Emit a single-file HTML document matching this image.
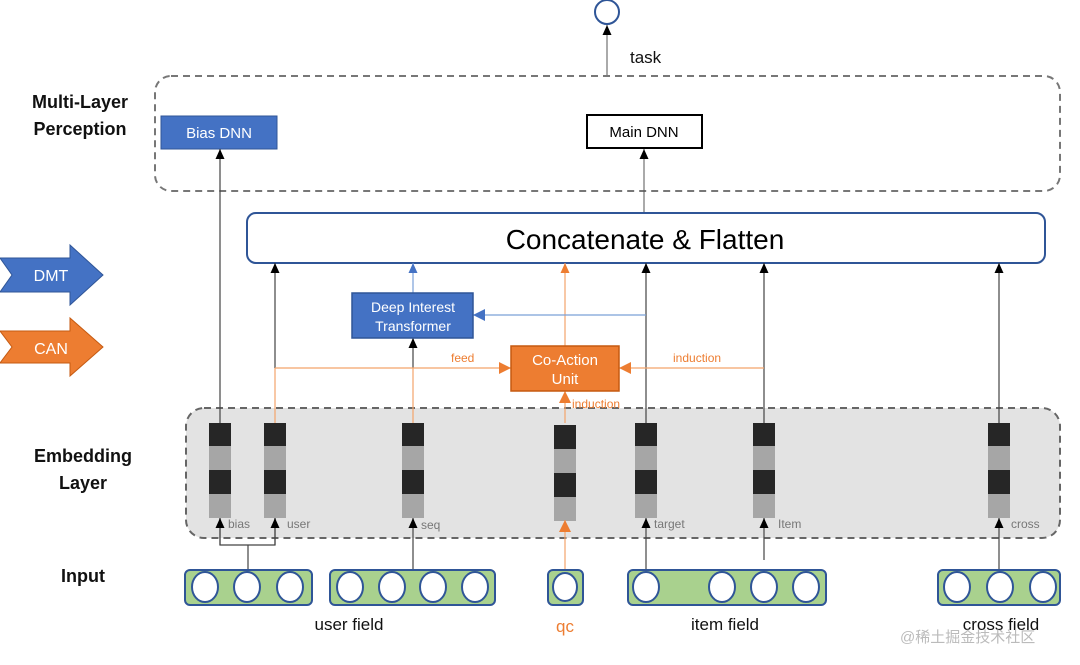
<!DOCTYPE html>
<html><head><meta charset="utf-8"><style>
html,body{margin:0;padding:0;background:#fff;}
svg{display:block;font-family:"Liberation Sans","Noto Sans CJK SC",sans-serif;}
</style></head><body>
<svg width="1080" height="665" viewBox="0 0 1080 665" xmlns="http://www.w3.org/2000/svg">
<defs>
<marker id="ab" markerWidth="10" markerHeight="10" refX="10" refY="4.5" orient="auto" markerUnits="userSpaceOnUse"><path d="M0,0 L10,4.5 L0,9 Z" fill="#000"/></marker>
<marker id="ao" markerWidth="10" markerHeight="10" refX="10" refY="4.5" orient="auto" markerUnits="userSpaceOnUse"><path d="M0,0 L10,4.5 L0,9 Z" fill="#ed7d31"/></marker>
<marker id="abl" markerWidth="10" markerHeight="10" refX="10" refY="4.5" orient="auto" markerUnits="userSpaceOnUse"><path d="M0,0 L10,4.5 L0,9 Z" fill="#4472c4"/></marker>
<marker id="ao2" markerWidth="12" markerHeight="12" refX="12" refY="6" orient="auto" markerUnits="userSpaceOnUse"><path d="M0,0 L12,6 L0,12 Z" fill="#ed7d31"/></marker>
<marker id="abl2" markerWidth="12" markerHeight="12" refX="12" refY="6" orient="auto" markerUnits="userSpaceOnUse"><path d="M0,0 L12,6 L0,12 Z" fill="#4472c4"/></marker>
</defs>
<g font-weight="bold" font-size="18" fill="#111" text-anchor="middle">
<text x="80" y="108">Multi-Layer</text><text x="80" y="135">Perception</text>
<text x="83" y="462">Embedding</text><text x="83" y="489">Layer</text>
<text x="83" y="582">Input</text>
</g>
<path d="M0,258 L70,258 L70,245 L103,275 L70,305 L70,292 L0,292 L12,275 Z" fill="#4472c4" stroke="#2f5597"/>
<text x="51" y="281" font-size="16" fill="#fff" text-anchor="middle">DMT</text>
<path d="M0,331 L70,331 L70,318 L103,347 L70,376 L70,363 L0,363 L12,347 Z" fill="#ed7d31" stroke="#c55a11"/>
<text x="51" y="354" font-size="16" fill="#fff" text-anchor="middle">CAN</text>
<ellipse cx="607" cy="12" rx="12" ry="12" fill="#fff" stroke="#2f5597" stroke-width="2"/>
<line x1="607" y1="76" x2="607" y2="25" stroke="#555" marker-end="url(#ab)"/>
<text x="630" y="63" font-size="17" fill="#111">task</text>
<rect x="155" y="76" width="905" height="115" rx="16" fill="none" stroke="#777" stroke-width="2" stroke-dasharray="7,5"/>
<rect x="161" y="116" width="116" height="33" fill="#4472c4" stroke="#2f5597"/>
<text x="219" y="138" font-size="15" fill="#fff" text-anchor="middle">Bias DNN</text>
<rect x="587" y="115" width="115" height="33" fill="#fff" stroke="#000" stroke-width="2"/>
<text x="644" y="137" font-size="15" fill="#000" text-anchor="middle">Main DNN</text>
<line x1="644" y1="213" x2="644" y2="149" stroke="#555" marker-end="url(#ab)"/>
<rect x="247" y="213" width="798" height="50" rx="9" fill="#fff" stroke="#2f5597" stroke-width="2"/>
<text x="645" y="249" font-size="28" fill="#000" text-anchor="middle">Concatenate &amp; Flatten</text>
<rect x="186" y="408" width="874" height="130" rx="18" fill="#e3e3e3" stroke="#666" stroke-width="2" stroke-dasharray="7,5"/>
<g>
<g transform="translate(209,423)"><rect width="22" height="23" fill="#262626"/><rect y="23" width="22" height="24" fill="#a6a6a6"/><rect y="47" width="22" height="24" fill="#262626"/><rect y="71" width="22" height="24" fill="#a6a6a6"/></g>
<g transform="translate(264,423)"><rect width="22" height="23" fill="#262626"/><rect y="23" width="22" height="24" fill="#a6a6a6"/><rect y="47" width="22" height="24" fill="#262626"/><rect y="71" width="22" height="24" fill="#a6a6a6"/></g>
<g transform="translate(402,423)"><rect width="22" height="23" fill="#262626"/><rect y="23" width="22" height="24" fill="#a6a6a6"/><rect y="47" width="22" height="24" fill="#262626"/><rect y="71" width="22" height="24" fill="#a6a6a6"/></g>
<g transform="translate(554,425)"><rect width="22" height="24" fill="#262626"/><rect y="24" width="22" height="24" fill="#a6a6a6"/><rect y="48" width="22" height="24" fill="#262626"/><rect y="72" width="22" height="24" fill="#a6a6a6"/></g>
<g transform="translate(635,423)"><rect width="22" height="23" fill="#262626"/><rect y="23" width="22" height="24" fill="#a6a6a6"/><rect y="47" width="22" height="24" fill="#262626"/><rect y="71" width="22" height="24" fill="#a6a6a6"/></g>
<g transform="translate(753,423)"><rect width="22" height="23" fill="#262626"/><rect y="23" width="22" height="24" fill="#a6a6a6"/><rect y="47" width="22" height="24" fill="#262626"/><rect y="71" width="22" height="24" fill="#a6a6a6"/></g>
<g transform="translate(988,423)"><rect width="22" height="23" fill="#262626"/><rect y="23" width="22" height="24" fill="#a6a6a6"/><rect y="47" width="22" height="24" fill="#262626"/><rect y="71" width="22" height="24" fill="#a6a6a6"/></g>
</g>
<g font-size="12" fill="#777">
<text x="228" y="528">bias</text><text x="287" y="528">user</text><text x="421" y="529">seq</text>
<text x="654" y="528">target</text><text x="778" y="528">Item</text><text x="1011" y="528">cross</text>
</g>
<g stroke="#444" stroke-width="1.2" fill="none">
<line x1="220" y1="423" x2="220" y2="149" marker-end="url(#ab)"/>
<line x1="275" y1="368" x2="275" y2="263" marker-end="url(#ab)"/>
<line x1="413" y1="368" x2="413" y2="338" marker-end="url(#ab)"/>
<line x1="646" y1="423" x2="646" y2="263" marker-end="url(#ab)"/>
<line x1="764" y1="423" x2="764" y2="263" marker-end="url(#ab)"/>
<line x1="999" y1="423" x2="999" y2="263" marker-end="url(#ab)"/>
</g>
<g stroke="#f4a46a" stroke-width="1.2" fill="none">
<line x1="275" y1="423" x2="275" y2="368"/>
<line x1="413" y1="423" x2="413" y2="368"/>
<line x1="275" y1="368" x2="511" y2="368" marker-end="url(#ao2)"/>
<line x1="764" y1="368" x2="619" y2="368" marker-end="url(#ao2)"/>
<line x1="565" y1="423" x2="565" y2="391" marker-end="url(#ao2)"/>
<line x1="565" y1="346" x2="565" y2="263" marker-end="url(#ao)"/>
</g>
<g stroke="#7aa0d8" stroke-width="1.2" fill="none">
<line x1="413" y1="293" x2="413" y2="263" marker-end="url(#abl)"/>
<line x1="646" y1="315" x2="473" y2="315" marker-end="url(#abl2)"/>
</g>
<rect x="352" y="293" width="121" height="45" fill="#4472c4" stroke="#2f5597" stroke-width="1.5"/>
<text x="413" y="312" font-size="14" fill="#fff" text-anchor="middle">Deep Interest</text>
<text x="413" y="331" font-size="14" fill="#fff" text-anchor="middle">Transformer</text>
<rect x="511" y="346" width="108" height="45" fill="#ed7d31" stroke="#c55a11" stroke-width="1.5"/>
<text x="565" y="365" font-size="15" fill="#fff" text-anchor="middle">Co-Action</text>
<text x="565" y="384" font-size="15" fill="#fff" text-anchor="middle">Unit</text>
<g font-size="12" fill="#ed7d31">
<text x="451" y="362">feed</text><text x="673" y="362">induction</text><text x="572" y="408">induction</text>
</g>
<g stroke="#444" stroke-width="1.2" fill="none">
<polyline points="220,518 220,545 275,545 275,518"/>
<line x1="220" y1="545" x2="220" y2="518" marker-end="url(#ab)"/>
<line x1="275" y1="545" x2="275" y2="518" marker-end="url(#ab)"/>
<line x1="248" y1="545" x2="248" y2="570"/>
<line x1="413" y1="570" x2="413" y2="518" marker-end="url(#ab)"/>
<line x1="646" y1="570" x2="646" y2="518" marker-end="url(#ab)"/>
<line x1="764" y1="560" x2="764" y2="518" marker-end="url(#ab)"/>
<line x1="999" y1="570" x2="999" y2="518" marker-end="url(#ab)"/>
</g>
<line x1="565" y1="570" x2="565" y2="520" stroke="#f4a46a" stroke-width="1.2" marker-end="url(#ao2)"/>
<g fill="#a9d18e" stroke="#2f5597" stroke-width="2">
<rect x="185" y="570" width="127" height="35" rx="5"/>
<rect x="330" y="570" width="165" height="35" rx="5"/>
<rect x="548" y="570" width="35" height="35" rx="5"/>
<rect x="628" y="570" width="198" height="35" rx="5"/>
<rect x="938" y="570" width="122" height="35" rx="5"/>
</g>
<g fill="#fff" stroke="#2f5597" stroke-width="2">
<ellipse cx="205" cy="587" rx="13" ry="15"/><ellipse cx="247" cy="587" rx="13" ry="15"/><ellipse cx="290" cy="587" rx="13" ry="15"/>
<ellipse cx="350" cy="587" rx="13" ry="15"/><ellipse cx="392" cy="587" rx="13" ry="15"/><ellipse cx="433" cy="587" rx="13" ry="15"/><ellipse cx="475" cy="587" rx="13" ry="15"/>
<ellipse cx="565" cy="587" rx="12" ry="14"/>
<ellipse cx="646" cy="587" rx="13" ry="15"/><ellipse cx="722" cy="587" rx="13" ry="15"/><ellipse cx="764" cy="587" rx="13" ry="15"/><ellipse cx="806" cy="587" rx="13" ry="15"/>
<ellipse cx="957" cy="587" rx="13" ry="15"/><ellipse cx="1000" cy="587" rx="13" ry="15"/><ellipse cx="1043" cy="587" rx="13" ry="15"/>
</g>
<g font-size="17" text-anchor="middle">
<text x="349" y="630" fill="#111">user field</text>
<text x="565" y="632" fill="#ed7d31">qc</text>
<text x="725" y="630" fill="#111">item field</text>
<text x="1001" y="630" fill="#111">cross field</text>
</g>
<text x="900" y="642" font-size="15" fill="#bbb">@稀土掘金技术社区</text>
</svg>
</body></html>
